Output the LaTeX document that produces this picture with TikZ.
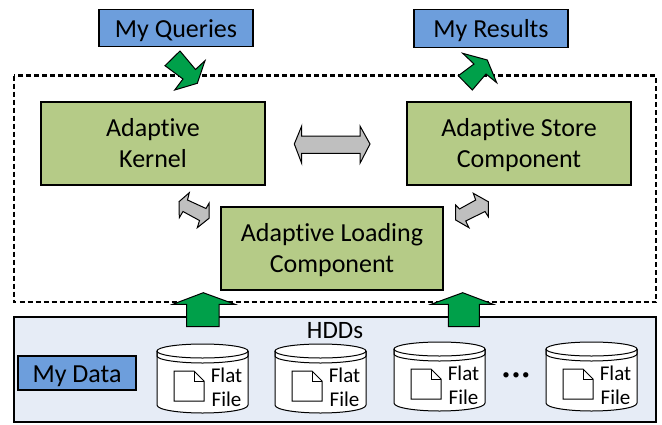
\documentclass[tikz,border=0pt]{standalone}
\usepackage{fontspec}
\setmainfont[Ligatures=NoCommon]{Carlito}
\usepackage{xcolor}
\definecolor{labelblue}{HTML}{6D9EDC}
\definecolor{compgreen}{HTML}{B5CB87}
\definecolor{flowgreen}{HTML}{00A04A}
\definecolor{diskpale}{HTML}{E6ECF6}
\definecolor{flowgray}{HTML}{BFBFBF}

\tikzset{
	labelbox/.style = {draw, line width = 1.3pt, fill = labelblue, inner sep = 0pt, minimum width = 154pt, minimum height = 37pt, font = \fontsize{26}{31}\selectfont, execute at begin node = {\rule{0pt}{23pt}}},
	compbox/.style = {draw, line width = 1.3pt, fill = compgreen, inner sep = 0pt, minimum width = 224pt, minimum height = 83pt, align = center, font = \fontsize{26}{31}\selectfont, text depth = 1pt},
	greenflow/.style = {draw, line width = 1pt, line join = miter, fill = flowgreen},
	grayflow/.style = {draw, line width = 1pt, fill = flowgray},
}

\begin{document}
\begin{tikzpicture}[x = 1pt, y = -1pt]
			\def\w{91};
			\def\ry{7};

			\useasboundingbox (0,0) rectangle (662,424);

			\draw [line width = 2.2pt, dash pattern = on 5pt off 3pt] (14,75.5) rectangle (656,302);

			\node [labelbox] (queries) at (176,28) {My Queries};
			\node [labelbox, minimum height = 38pt] (results) at (491,28.5) {My Results};

			\node [compbox] (kernel) at (153,143.5) {Adaptive\\Kernel};
			\node [compbox] (store) at (519,143.5) {Adaptive Store\\Component};
			\node [compbox, minimum width = 222pt] (loading) at (332,248.5) {Adaptive Loading\\Component};

			% the disks
			\node [draw, line width = 1.3pt, fill = diskpale, inner sep = 0pt, minimum width = 642pt, minimum height = 105pt] (hdds) at (335,369.5) {};
			\node [font = \fontsize{25}{30}\selectfont] (hddlabel) at (335,331) {HDDs};
			\node [labelbox, minimum width = 118pt, minimum height = 34pt] (data) at (77,373) {My Data};

			\foreach \x/\y in {157/344, 275/344, 394/342, 546/342} {
				\begin{scope}[shift = {(\x,\y)}]
					\draw [fill = white, line width = 1pt]
						(0,7) -- (0,61)
						.. controls (0,66) and (\w*0.25,69) .. (\w*0.5,69)
						.. controls (\w*0.75,69) and (\w,66) .. (\w,61) -- (\w,7);
					\draw [fill = white, line width = 1pt] (\w*0.5,7) circle [x radius = \w*0.5, y radius = \ry];
					\draw [line width = 1pt]
						(0,7) -- (0,12)
						.. controls (0,16) and (\w*0.25,19) .. (\w*0.5,19)
						.. controls (\w*0.75,19) and (\w,16) .. (\w,12) -- (\w,7);
					\draw [fill = white, line width = 1pt] (17,27) -- (37,27) -- (47,37) -- (47,57) -- (17,57) -- cycle;
					\draw [line width = 1pt] (37,27) -- (37,37) -- (47,37);
					\node [font = \fontsize{21}{24}\selectfont, align = center] at (69.5,43.5) {Flat\\File};
				\end{scope}
			}
			\node [font = \fontsize{15}{18}\selectfont] (dots) at (516,376) {•\,•\,•};

			% large block arrows
			\draw [greenflow] (180,51) -- (195.5,69.5) -- (205,60.7) -- (197.3,83.3) -- (174.7,90) -- (183,79) -- (165,65.7) -- cycle;
			\draw [greenflow] (472.3,90) -- (458.3,75.7) -- (474,64) -- (462.7,53.3) -- (487.3,60) -- (496.7,82.7) -- (486,74) -- cycle;
			\draw [greenflow] (203.3,292.7) -- (235,304.3) -- (219,304.3) -- (219,326.7) -- (186.7,326.7) -- (186.7,304.3) -- (172.7,304.3) -- cycle;
			\draw [greenflow] (462.7,292.7) -- (493.3,304.3) -- (479.3,304.3) -- (479.3,326.7) -- (448.3,326.7) -- (448.3,304.3) -- (431,304.3) -- cycle;

			\draw [grayflow] (294.3,144) -- (301.7,126) -- (301.7,136) -- (360,136) -- (360,126) -- (370,144) -- (360,163.3) -- (360,153.3) -- (301.7,153.3) -- (301.7,163.3) -- cycle;
			\draw [grayflow] (179,201.7) -- (189.3,192.7) -- (187.5,200) -- (206,208.5) -- (209,203.3) -- (209,218.3) -- (197.3,227.7) -- (199.5,220.5) -- (183,211.5) -- (179.3,217.7) -- cycle;
			\draw [grayflow] (455.7,220) -- (455.7,205) -- (459.5,209) -- (475.7,200) -- (473.3,193.3) -- (488.3,201.7) -- (488.3,216.7) -- (485,211.5) -- (465.7,221) -- (469,227.7) -- cycle;
		\end{tikzpicture}
\end{document}
